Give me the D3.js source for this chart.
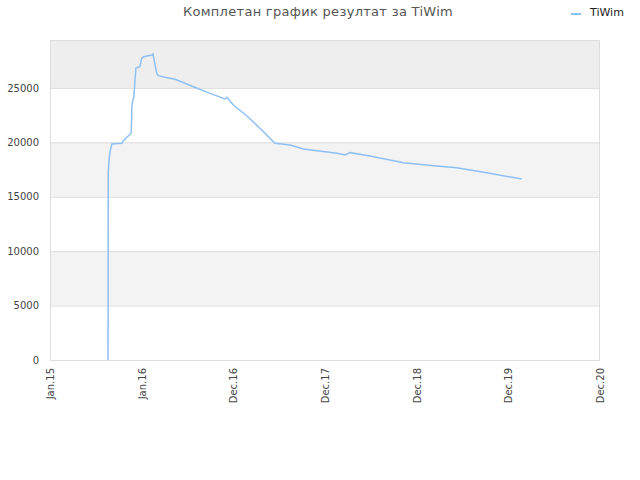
<!DOCTYPE html>
<html><head><meta charset="utf-8">
<script src="https://cdn.jsdelivr.net/npm/d3@7"></script>
<style>body{margin:0;background:#fff;}svg{display:block;font-family:"DejaVu Sans",sans-serif;}</style>
</head><body><svg id="c" width="640" height="480"></svg>
<script>
const title = "Комплетан график резултат за TiWim";
const seriesName = "TiWim";
const dates = ["2015-08-20","2015-08-21","2015-08-24","2015-08-28","2015-09-04","2015-10-15","2015-10-19","2015-11-20","2015-11-22","2015-11-23","2015-11-27","2015-12-01","2015-12-05","2015-12-09","2015-12-25","2015-12-31","2016-01-07","2016-01-27","2016-02-12","2016-02-15","2016-03-01","2016-03-07","2016-04-03","2016-05-13","2016-07-25","2016-09-29","2016-11-28","2016-12-05","2016-12-31","2017-02-22","2017-04-16","2017-06-15","2017-08-14","2017-10-06","2018-02-16","2018-03-21","2018-04-10","2018-06-28","2018-11-08","2019-03-21","2019-06-08","2019-10-06","2020-02-22"];
const values = [0,17270,18375,19110,19845,19910,20120,20830,22050,23340,23890,24160,25540,26830,26950,27650,27840,27960,28020,28110,26340,26120,25970,25790,25110,24500,23980,24140,23430,22440,21290,19910,19750,19390,18990,18830,19050,18740,18130,17820,17670,17210,16630];
const yTicks = [0,5000,10000,15000,20000,25000];
const xTickLabels = ["Jan.15","Jan.16","Dec.16","Dec.17","Dec.18","Dec.19","Dec.20"];
const bandColors = ["#ffffff","#f3f3f3","#ffffff","#f3f3f3","#ffffff","#eeeeee"];

const svg = d3.select("#c");
const m = {l:50, r:40, t:40, b:120};
const W = 640, H = 480;
const parse = d3.timeParse("%Y-%m-%d");
const start = parse("2015-01-01");
const xTicks = xTickLabels.map((_, i) => d3.timeDay.offset(start, i*365));
const x = d3.scaleTime().domain([start, xTicks[xTicks.length-1]]).range([m.l, W-m.r]);
const y = d3.scaleLinear().domain([0, 29400]).range([H-m.b, m.t]);

// bands
const bandEdges = yTicks.concat([29400]);
svg.append("g").selectAll("rect").data(yTicks).join("rect")
  .attr("x", m.l).attr("width", W-m.r-m.l)
  .attr("y", (d,i)=>y(bandEdges[i+1])).attr("height",(d,i)=>y(bandEdges[i])-y(bandEdges[i+1]))
  .attr("fill",(d,i)=>bandColors[i]);
// grid
svg.append("g").selectAll("line").data(yTicks.slice(1)).join("line")
  .attr("x1", m.l).attr("x2", W-m.r).attr("y1", d=>y(d)+0.5).attr("y2", d=>y(d)+0.5)
  .attr("stroke","#dddddd");
// frame
svg.append("rect").attr("x", m.l+0.5).attr("y", m.t+0.5).attr("width", W-m.r-m.l-1).attr("height", H-m.b-m.t)
  .attr("fill","none").attr("stroke","#dddddd");

// y axis labels
const ya = svg.append("g").attr("transform",`translate(${m.l},0)`)
  .call(d3.axisLeft(y).tickValues(yTicks).tickSize(0).tickPadding(11).tickFormat(d3.format("d")));
ya.select(".domain").remove();
ya.selectAll("text").attr("fill","#444").style("font-size","10px").style("font-family","DejaVu Sans");

// x axis labels
const xa = svg.append("g").attr("transform",`translate(0,${H-m.b})`)
  .call(d3.axisBottom(x).tickValues(xTicks).tickSize(0).tickFormat((d,i)=>xTickLabels[i]));
xa.select(".domain").remove();
xa.selectAll("text").attr("fill","#444").style("font-size","10px").style("font-family","DejaVu Sans")
  .attr("text-anchor","end").attr("transform","rotate(-90)").attr("x",-8).attr("y",0).attr("dy","0.35em");

// line
const data = dates.map((d,i)=>({d:parse(d), v:values[i]}));
svg.append("path").datum(data)
  .attr("fill","none").attr("stroke","#8ec0f4").attr("stroke-width",1.5)
  .attr("d", d3.line().x(p=>x(p.d)).y(p=>y(p.v)));

// title
svg.append("text").attr("x",318).attr("y",16).attr("text-anchor","middle")
  .attr("fill","#555").style("font-size","13px").style("letter-spacing","0.3px").text(title);
// legend
svg.append("line").attr("x1",571).attr("x2",581).attr("y1",14).attr("y2",14).attr("stroke","#8ec0f4").attr("stroke-width",2);
svg.append("text").attr("x",590).attr("y",16).attr("fill","#222").style("font-size","11px").text(seriesName);
</script></body></html>
